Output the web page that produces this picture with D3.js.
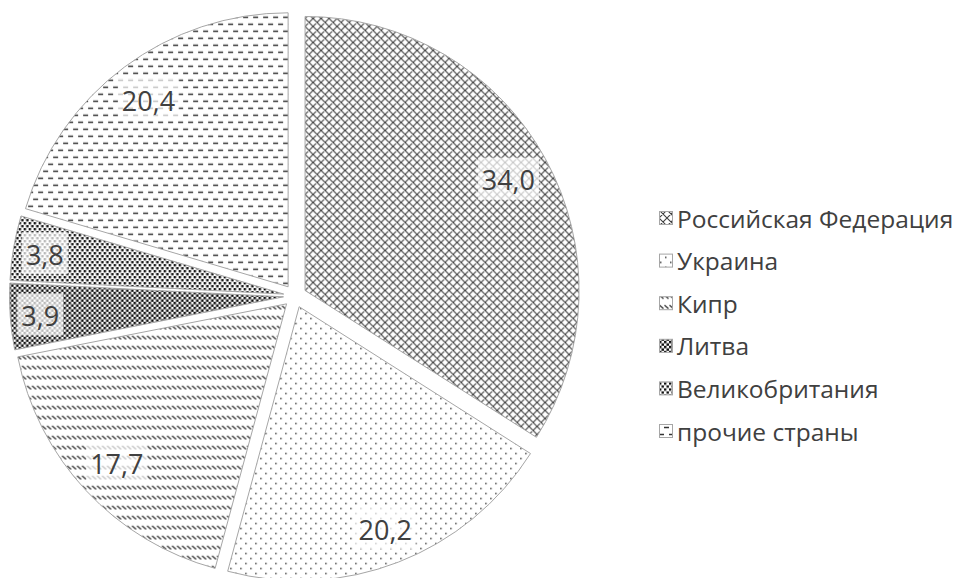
<!DOCTYPE html>
<html>
<head>
<meta charset="utf-8">
<script src="https://cdn.jsdelivr.net/npm/d3@7.9.0/dist/d3.min.js"></script>
<style>
  body { margin: 0; background: #fff; }
  svg { display: block; font-family: "Open Sans", sans-serif; }
</style>
</head>
<body>
<svg width="960" height="578"></svg>
<script>
const countries = ['Российская Федерация', 'Украина', 'Кипр', 'Литва', 'Великобритания', 'прочие страны'];
const shares = [34.0, 20.2, 17.7, 3.9, 3.8, 20.4];
const patternIds = ['p-cross', 'p-dots', 'p-diag', 'p-check', 'p-confetti', 'p-dash'];

const svg = d3.select('svg');
const defs = svg.append('defs');

// fill patterns like the office chart ones
function tile(id, w, h) {
  return defs.append('pattern')
    .attr('id', id)
    .attr('patternUnits', 'userSpaceOnUse')
    .attr('width', w)
    .attr('height', h);
}

let p = tile('p-cross', 8, 8);
p.append('rect').attr('width', 8).attr('height', 8).attr('fill', '#fff');
p.append('path').attr('d', 'M0,0L8,8M8,0L0,8M-1,7L1,9M7,-1L9,1M-1,1L1,-1M7,9L9,7')
  .attr('stroke', '#404040').attr('stroke-width', 1.1).attr('fill', 'none');

p = tile('p-dots', 10, 10);
p.append('rect').attr('width', 10).attr('height', 10).attr('fill', '#fff');
p.append('rect').attr('x', 1).attr('y', 1).attr('width', 1.5).attr('height', 1.5).attr('fill', '#444');
p.append('rect').attr('x', 6).attr('y', 6).attr('width', 1.5).attr('height', 1.5).attr('fill', '#444');

p = tile('p-diag', 5, 10);
p.append('rect').attr('width', 5).attr('height', 10).attr('fill', '#fff');
p.append('path').attr('d', 'M0.5,2L4.5,5.5')
  .attr('stroke', '#333').attr('stroke-width', 1.3).attr('fill', 'none');

p = tile('p-check', 5, 5);
p.append('rect').attr('width', 5).attr('height', 5).attr('fill', '#fff');
p.append('rect').attr('width', 2.5).attr('height', 2.5).attr('fill', '#111');
p.append('rect').attr('x', 2.5).attr('y', 2.5).attr('width', 2.5).attr('height', 2.5).attr('fill', '#111');

p = tile('p-confetti', 5, 6);
p.append('rect').attr('width', 5).attr('height', 6).attr('fill', '#fff');
p.append('rect').attr('x', 0).attr('y', 0).attr('width', 2.4).attr('height', 2.4).attr('fill', '#111');
p.append('rect').attr('x', 2.5).attr('y', 3).attr('width', 2.4).attr('height', 2.4).attr('fill', '#111');

p = tile('p-dash', 10, 14);
p.append('rect').attr('width', 10).attr('height', 14).attr('fill', '#fff');
p.append('path').attr('d', 'M0,3.5H5M5,10.5H10')
  .attr('stroke', '#333').attr('stroke-width', 1.5).attr('fill', 'none');

// pie
const cx = 295, cy = 296, R = 274, explode = 11.5;

const pie = d3.pie().sort(null).value(d => d);
const arc = d3.arc().innerRadius(0).outerRadius(R);
const arcs = pie(shares);

const g = svg.append('g').attr('transform', `translate(${cx},${cy})`);

const slices = g.selectAll('g.slice')
  .data(arcs)
  .join('g')
  .attr('class', 'slice')
  .attr('transform', d => {
    const a = (d.startAngle + d.endAngle) / 2;
    return `translate(${Math.sin(a) * explode},${-Math.cos(a) * explode})`;
  });

slices.append('path')
  .attr('d', arc)
  .attr('fill', (d, i) => `url(#${patternIds[i]})`)
  .attr('stroke', '#a6a6a6')
  .attr('stroke-width', 1);

// labels: put the box as far out as it still fits ("inside end")
const fmt = v => d3.format('.1f')(v).replace('.', ',');
const fontSize = 27;

slices.each(function (d) {
  const sl = d3.select(this);
  const txt = sl.append('text')
    .attr('text-anchor', 'middle')
    .attr('dominant-baseline', 'central')
    .attr('font-size', fontSize)
    .attr('fill', '#404040')
    .text(fmt(d.value));
  const bb = txt.node().getBBox();
  const hw = bb.width / 2 + 4, hh = 21;
  const a = (d.startAngle + d.endAngle) / 2;
  const ux = Math.sin(a), uy = -Math.cos(a);
  const cxs = ux >= 0 ? hw : -hw, cys = uy >= 0 ? hh : -hh;
  const lim = R - 5;
  const b = 2 * (ux * cxs + uy * cys);
  const c = cxs * cxs + cys * cys - lim * lim;
  const t = (-b + Math.sqrt(b * b - 4 * c)) / 2;
  const x = ux * t, y = uy * t;
  sl.insert('rect', 'text')
    .attr('x', x - hw).attr('y', y - hh)
    .attr('width', hw * 2).attr('height', hh * 2)
    .attr('fill', '#fff').attr('fill-opacity', 0.7);
  txt.attr('x', x).attr('y', y + 1);
});

// legend
const legend = svg.append('g').attr('transform', 'translate(659,218)');
const item = legend.selectAll('g')
  .data(countries)
  .join('g')
  .attr('transform', (d, i) => `translate(0,${i * 42.6})`);

item.append('rect')
  .attr('x', 0.5).attr('y', -6.5)
  .attr('width', 13).attr('height', 13)
  .attr('fill', (d, i) => `url(#${patternIds[i]})`)
  .attr('stroke', '#a6a6a6');

item.append('text')
  .attr('x', 18)
  .attr('y', 0)
  .attr('dominant-baseline', 'central')
  .attr('font-size', 24.5)
  .attr('fill', '#404040')
  .text(d => d);
</script>
</body>
</html>
